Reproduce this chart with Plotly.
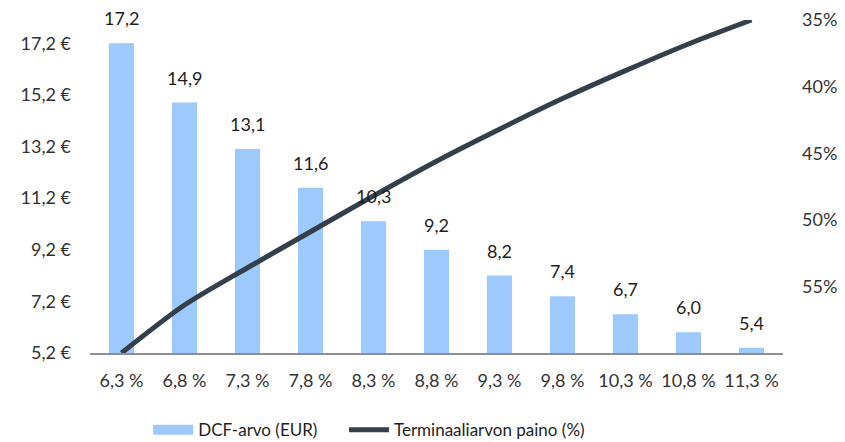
import plotly.graph_objects as go

categories = ["6,3 %", "6,8 %", "7,3 %", "7,8 %", "8,3 %", "8,8 %", "9,3 %", "9,8 %", "10,3 %", "10,8 %", "11,3 %"]
dcf_values = [17.2, 14.9, 13.1, 11.6, 10.3, 9.2, 8.2, 7.4, 6.7, 6.0, 5.4]
terminal_weight = [60.0, 56.4, 53.6, 50.9, 48.2, 45.6, 43.2, 40.9, 38.8, 36.8, 35.0]
left_tickvals = [5.2, 7.2, 9.2, 11.2, 13.2, 15.2, 17.2]
left_ticktext = ["5,2 €", "7,2 €", "9,2 €", "11,2 €", "13,2 €", "15,2 €", "17,2 €"]
right_tickvals = [35, 40, 45, 50, 55]
right_ticktext = ["35%", "40%", "45%", "50%", "55%"]

FONT = "Lato"
FS = 18
TXT = "#1e1e1e"
BAR_COLOR = "#9DC9FD"
LINE_COLOR = "#333F4B"

fig = go.Figure()
fig.add_trace(go.Bar(
    x=categories, y=dcf_values, name="DCF-arvo (EUR)",
    marker=dict(color=BAR_COLOR, line=dict(width=0)),
    width=0.4, showlegend=False,
))
# legend-only entry so the swatch is a wide rectangle as in the original
fig.add_trace(go.Scatter(
    x=[None], y=[None], name="DCF-arvo (EUR)", mode="lines",
    line=dict(color=BAR_COLOR, width=12), legend="legend",
))
fig.add_trace(go.Scatter(
    x=categories, y=terminal_weight, name="Terminaaliarvon paino (%)",
    mode="lines", yaxis="y2", line=dict(color=LINE_COLOR, width=5, shape="spline", smoothing=0.8),
    cliponaxis=False, legend="legend2",
))

annotations = []
for c, v in zip(categories, dcf_values):
    annotations.append(dict(
        x=c, y=v, xref="x", yref="y", text=f"{v:.1f}".replace(".", ","),
        showarrow=False, yanchor="middle", yshift=25,
        font=dict(family=FONT, size=FS, color=TXT),
    ))

legend_common = dict(orientation="h", xanchor="left", yref="container",
                     y=0.045, yanchor="middle",
                     font=dict(family=FONT, size=17, color=TXT), itemwidth=40)

fig.update_layout(
    width=845, height=442,
    margin=dict(l=82, r=70, t=12, b=97),
    paper_bgcolor="white", plot_bgcolor="white",
    font=dict(family=FONT, size=FS, color=TXT),
    showlegend=True,
    legend=dict(x=0.084, **legend_common),
    legend2=dict(x=0.3665, **legend_common),
    xaxis=dict(type="category", showgrid=False, showline=True, linecolor="#8a9096",
               linewidth=2, ticks="", tickfont=dict(size=FS, color="#333"),
               ticklabelstandoff=10, automargin=False),
    yaxis=dict(range=[5.2, 18.1], showgrid=False, zeroline=False, showline=False,
               tickvals=left_tickvals, ticktext=left_ticktext,
               tickfont=dict(size=FS, color="#333"), ticklabelstandoff=18, automargin=False),
    yaxis2=dict(overlaying="y", side="right", range=[60, 35], showgrid=False,
                zeroline=False, showline=False, tickvals=right_tickvals,
                ticktext=right_ticktext, tickfont=dict(size=FS, color="#333"),
                ticklabelstandoff=18, automargin=False),
    annotations=annotations,
)

fig.write_html("out.html")
